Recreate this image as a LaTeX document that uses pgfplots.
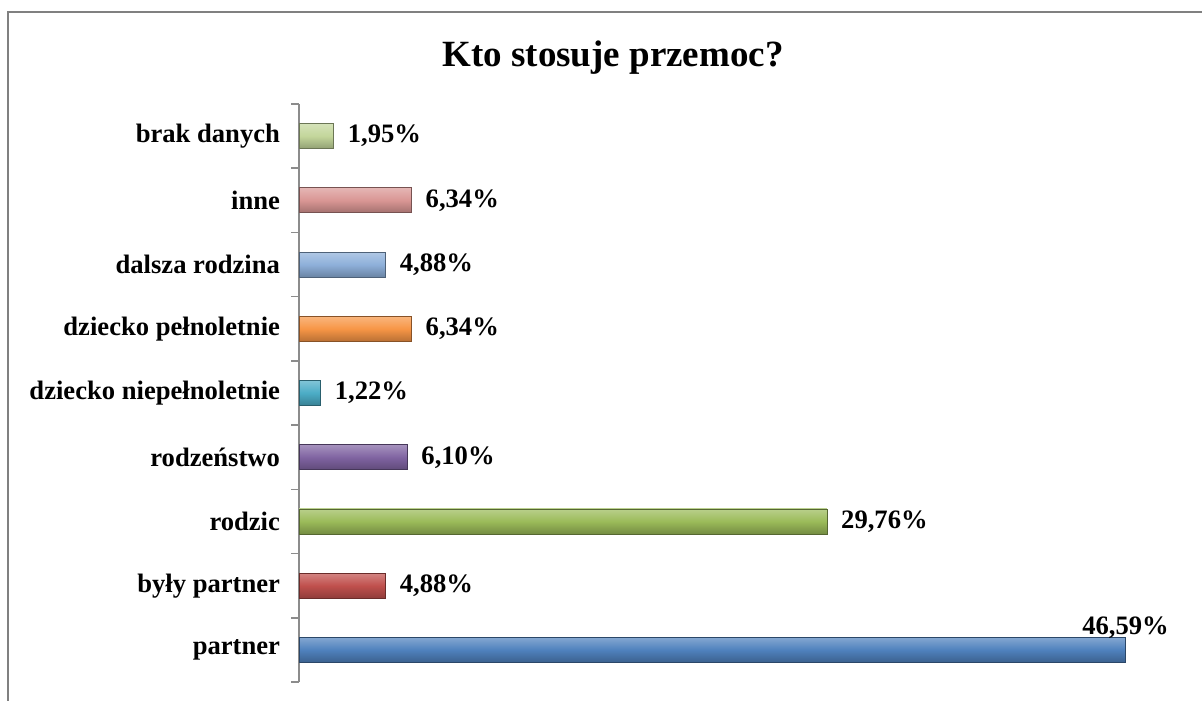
\documentclass[border=0pt]{standalone}
\usepackage{fontspec}
\setmainfont{Liberation Serif}
\usepackage{pgfplots}
\pgfplotsset{compat=1.18}

\definecolor{cBlue}{HTML}{4F81BD}
\definecolor{cRed}{HTML}{C0504D}
\definecolor{cGreen}{HTML}{9BBB59}
\definecolor{cPurple}{HTML}{8064A2}
\definecolor{cAqua}{HTML}{4BACC6}
\definecolor{cOrange}{HTML}{F79646}
\definecolor{cLBlue}{HTML}{8EB0DA}
\definecolor{cLRed}{HTML}{D99694}
\definecolor{cLGreen}{HTML}{C3D69B}

\pgfplotsset{
  mybar/.style={xbar, bar width=12.5pt, bar shift=0pt,
    draw=#1!55!black, line width=0.4pt,
    top color=#1!70!white, bottom color=#1!75!black, middle color=#1},
}

\begin{document}
\begin{tikzpicture}[x=1pt,y=1pt]
\useasboundingbox (0,0) rectangle (601,350);
\draw[gray, line width=1pt] (3.75,-20) -- (3.75,344) -- (640,344);
\node[anchor=base, font=\bfseries\fontsize{18.5}{22}\selectfont] at (306.5,316.7) {Kto stosuje przemoc?};
\begin{axis}[
  at={(149.5pt,9pt)}, anchor=south west,
  scale only axis, width=443.5pt, height=289pt,
  xmin=0, xmax=50, ymin=-0.5, ymax=8.5,
  axis x line=none, axis y line*=left,
  y axis line style={draw=gray!90, line width=0.8pt},
  ytick={0,...,8},
  yticklabels={partner, były partner, rodzic, rodzeństwo, dziecko niepełnoletnie, dziecko pełnoletnie, dalsza rodzina, inne, brak danych},
  major tick length=0pt,
  minor ytick={-0.5,0.5,...,8.5},
  minor tick length=4pt,
  tick align=outside,
  minor tick style={draw=gray!90, line width=0.8pt},
  yticklabel style={font=\bfseries\fontsize{13.3}{16}\selectfont, xshift=-6pt},
  point meta=x,
  nodes near coords={\pgfmathprintnumber[fixed,fixed zerofill,precision=2,use comma,assume math mode=true]{\pgfplotspointmeta}\%},
  nodes near coords align={horizontal},
  every node near coord/.append style={font=\bfseries\fontsize{13.3}{16}\selectfont, text=black, xshift=3.6pt},
  clip=false,
]
\addplot[mybar=cBlue, every node near coord/.append style={anchor=base, xshift=-3.6pt, yshift=7.5pt}] coordinates {(46.59,0)};
\addplot[mybar=cRed] coordinates {(4.88,1)};
\addplot[mybar=cGreen] coordinates {(29.76,2)};
\addplot[mybar=cPurple] coordinates {(6.10,3)};
\addplot[mybar=cAqua] coordinates {(1.22,4)};
\addplot[mybar=cOrange] coordinates {(6.34,5)};
\addplot[mybar=cLBlue] coordinates {(4.88,6)};
\addplot[mybar=cLRed] coordinates {(6.34,7)};
\addplot[mybar=cLGreen] coordinates {(1.95,8)};
\end{axis}
\end{tikzpicture}
\end{document}
